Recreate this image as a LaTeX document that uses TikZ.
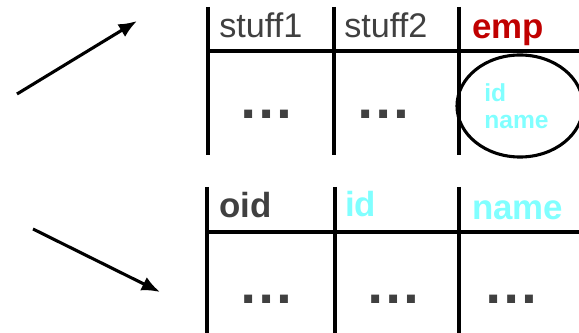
\documentclass[tikz,border=0pt]{standalone}
\usepackage{fontspec}
\setmainfont{Liberation Sans}
\usetikzlibrary{arrows.meta,shapes.geometric}
\definecolor{txtgray}{HTML}{404040}
\definecolor{empred}{HTML}{C00000}
\definecolor{idcyan}{HTML}{80FFFF}
\tikzset{
  rule/.style={line width=2.5pt},
  colhead/.style={anchor=base west, inner sep=0pt, text=txtgray, font=\fontsize{24.3pt}{25pt}\selectfont},
  boldhead/.style={colhead, font=\bfseries\fontsize{24.8pt}{25pt}\selectfont},
  dotrow/.style={anchor=base, inner sep=0pt, text=txtgray, font=\bfseries\fontsize{40pt}{40pt}\selectfont},
  pointer/.style={line width=2.2pt, -{Latex[length=13pt,width=10.5pt]}}
}
\begin{document}
\begin{tikzpicture}[x=0.025cm, y=-0.025cm]
      \useasboundingbox (0,0) rectangle (579,333);

      % Pointers on the left
      \coordinate (upfrom) at (17,94);
      \coordinate (upto) at (137,21);
      \draw[pointer] (upfrom) -- (upto);
      \coordinate (downfrom) at (33,229);
      \coordinate (downto) at (160,292);
      \draw[pointer] (downfrom) -- (downto);

      % Upper table (nested emp)
      \draw[rule] (208,7) -- (208,155);
      \draw[rule] (334,7) -- (334,155);
      \draw[rule] (459,7) -- (459,155);
      \draw[rule] (208,51) -- (585,51);
      \node[colhead] (stuffA) at (219,38) {stuff1};
      \node[colhead] (stuffB) at (344,38) {stuff2};
      \node[boldhead, text=empred] (emp) at (472,39) {emp};
      \node[dotrow] (dotsA) at (267,119) {…};
      \node[dotrow] (dotsB) at (384,119) {…};
      \node[draw, ellipse, line width=2.2pt, minimum width=3.15cm, minimum height=2.55cm,
            inner sep=0pt, align=left, text=idcyan,
            font=\bfseries\fontsize{17.5pt}{19.5pt}\selectfont] (empcell) at (520,106) {id\\name\hspace*{5pt}};

      % Lower table (flat)
      \draw[rule] (207,187) -- (207,340);
      \draw[rule] (335,187) -- (335,340);
      \draw[rule] (459,187) -- (459,340);
      \draw[rule] (207,232) -- (585,232);
      \node[boldhead] (oid) at (219,218) {oid};
      \node[boldhead, text=idcyan] (id) at (345,217) {id};
      \node[boldhead, text=idcyan] (name) at (472,220) {name};
      \node[dotrow] (dotsC) at (267,304) {…};
      \node[dotrow] (dotsD) at (394,304) {…};
      \node[dotrow] (dotsE) at (512,304) {…};

\end{tikzpicture}
\end{document}
